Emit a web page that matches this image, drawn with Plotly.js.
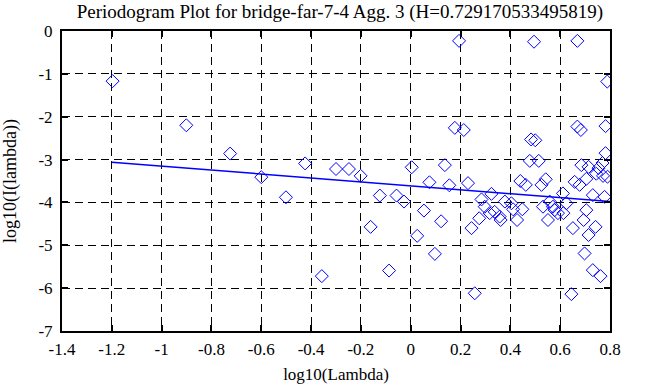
<!DOCTYPE html>
<html>
<head>
<meta charset="utf-8">
<script src="https://cdn.plot.ly/plotly-3.0.1.min.js"></script>
<style>html,body{margin:0;padding:0;background:#fff;}#chart{width:663px;height:387px;}</style>
</head>
<body>
<div id="chart"></div>
<script>
var logLambda = [-1.197,-0.901,-0.725,-0.600,-0.501,-0.424,-0.357,-0.300,-0.248,-0.201,-0.161,-0.124,-0.087,-0.057,-0.027,0.004,0.026,0.053,0.075,0.097,0.122,0.137,0.155,0.177,0.194,0.213,0.230,0.244,0.257,0.275,0.284,0.297,0.317,0.324,0.337,0.357,0.361,0.378,0.404,0.411,0.427,0.440,0.448,0.462,0.478,0.483,0.495,0.500,0.514,0.525,0.531,0.542,0.551,0.558,0.571,0.578,0.591,0.611,0.613,0.625,0.645,0.651,0.658,0.669,0.669,0.678,0.683,0.685,0.694,0.698,0.705,0.705,0.714,0.714,0.731,0.731,0.742,0.745,0.754,0.762,0.770,0.772,0.778,0.782,0.782,0.789,0.790];
var logI = [-1.17,-2.20,-2.86,-3.41,-3.88,-3.09,-5.72,-3.22,-3.22,-3.38,-4.57,-3.84,-5.59,-3.84,-3.98,-3.18,-4.78,-4.19,-3.53,-5.20,-4.44,-3.13,-3.60,-2.26,-0.23,-2.31,-3.55,-4.60,-6.12,-4.37,-3.93,-4.10,-4.25,-3.80,-4.22,-4.33,-4.41,-3.98,-4.02,-4.16,-4.41,-3.50,-4.16,-3.59,-3.03,-2.53,-0.25,-2.55,-3.03,-3.59,-4.10,-3.46,-4.41,-3.98,-4.10,-4.18,-4.25,-3.79,-4.25,-4.02,-6.14,-4.60,-3.52,-0.23,-2.23,-3.59,-2.31,-3.13,-4.41,-5.19,-3.45,-4.18,-3.17,-4.76,-3.83,-5.58,-4.57,-3.33,-3.20,-5.72,-3.08,-3.38,-3.87,-2.22,-2.85,-1.18,-3.40];
var fitX = [-1.2, 0.8];
var fitY = [-3.06, -3.98];
var xTickVals = [-1.4,-1.2,-1,-0.8,-0.6,-0.4,-0.2,0,0.2,0.4,0.6,0.8];
var xTickText = ["-1.4","-1.2","-1","-0.8","-0.6","-0.4","-0.2","0","0.2","0.4","0.6","0.8"];
var yTickVals = [0,-1,-2,-3,-4,-5,-6,-7];
var yTickText = ["0","-1","-2","-3","-4","-5","-6","-7"];

var font = "Liberation Serif";
var traces = [
  {x: logLambda, y: logI, type: 'scatter', mode: 'markers',
   marker: {symbol: 'diamond-open', size: 10, color: '#0000ff', line: {width: 1, color: '#0000ff'}},
   hoverinfo: 'x+y'},
  {x: fitX, y: fitY, type: 'scatter', mode: 'lines', line: {color: '#0000ff', width: 1.5}}
];
function axisBase() {
  return {
    showline: true, linecolor: '#000', linewidth: 2, mirror: 'allticks',
    ticks: 'inside', ticklen: 6, tickwidth: 2, tickcolor: '#000',
    showgrid: true, gridcolor: '#000', gridwidth: 1, griddash: '8px,5px',
    zeroline: false, tickmode: 'array',
    tickfont: {family: font, size: 17, color: '#000'}
  };
}
var layout = {
  width: 663, height: 387,
  font: {family: font, color: '#000'},
  margin: {l: 61.5, r: 52.5, t: 31, b: 56},
  paper_bgcolor: '#fff', plot_bgcolor: '#fff',
  showlegend: false,
  title: {text: 'Periodogram Plot for bridge-far-7-4 Agg. 3 (H=0.729170533495819)',
          font: {family: font, size: 19, color: '#000'},
          x: 0.507, xanchor: 'center', y: 1 - 11/387, yanchor: 'middle', xref: 'paper', yref: 'container'},
  xaxis: Object.assign(axisBase(), {range: [-1.4, 0.8], tickvals: xTickVals, ticktext: xTickText,
    ticklabelstandoff: 2,
    title: {text: 'log10(Lambda)', font: {family: font, size: 17, color: '#000'}, standoff: 10}}),
  yaxis: Object.assign(axisBase(), {range: [-7, 0], tickvals: yTickVals, ticktext: yTickText,
    ticklabelstandoff: 4,
    title: {text: 'log10(I(lambda))', font: {family: font, size: 18, color: '#000'}, standoff: 20}})
};
Plotly.newPlot('chart', traces, layout, {displayModeBar: false, staticPlot: true});
</script>
</body>
</html>
